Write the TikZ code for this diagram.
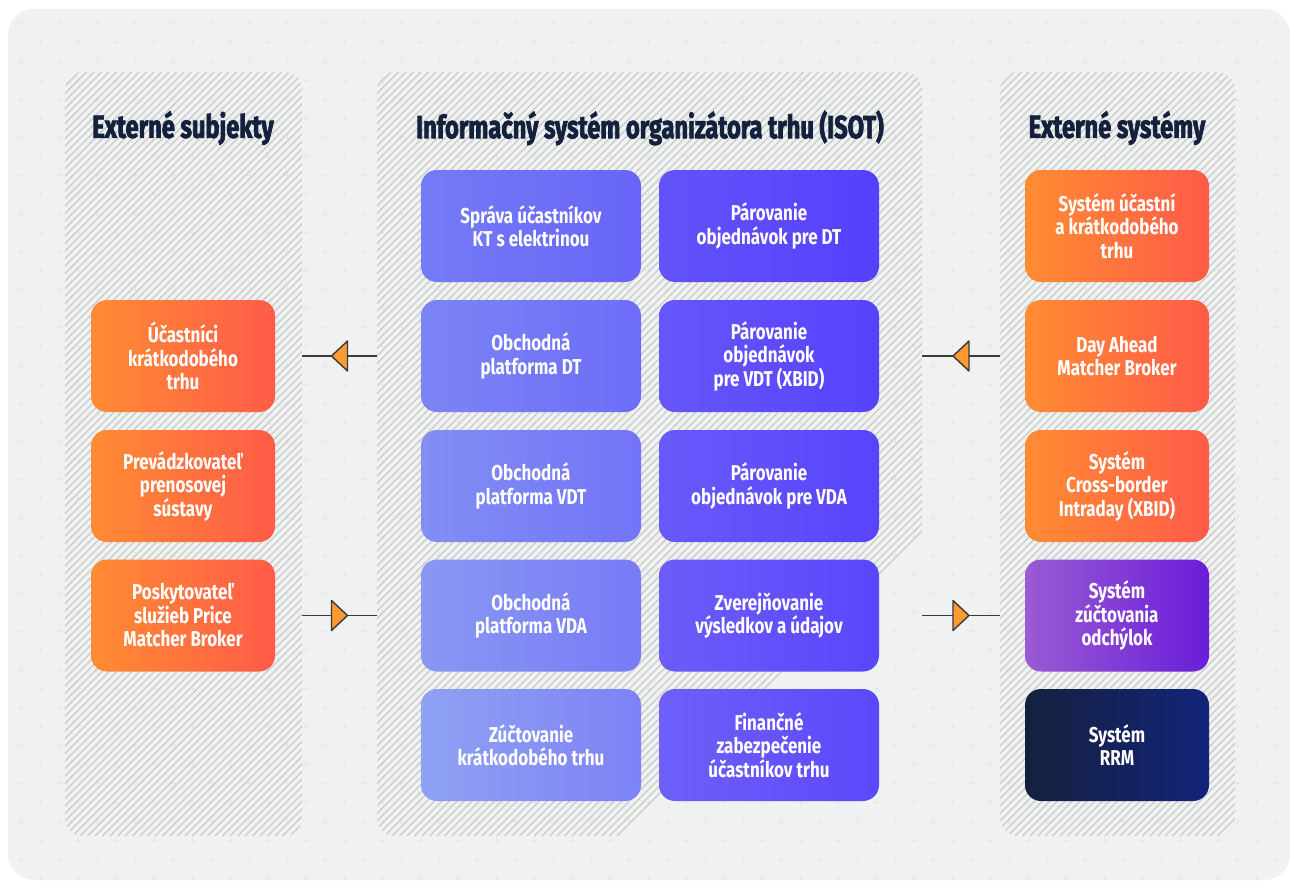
\documentclass[tikz,border=0pt]{standalone}
\usepackage{fontspec}
\setmainfont{Fira Sans}
\newfontfamily\hdfont[FakeStretch=0.74,FakeBold=2.2]{Fira Sans}
\newfontfamily\bxfont[FakeStretch=0.79]{Fira Sans}
\usetikzlibrary{calc}
\definecolor{bgc}{HTML}{F0F1F1}
\definecolor{plusc}{HTML}{E5E7E7}
\definecolor{hatchc}{HTML}{C8CACA}
\definecolor{hdc}{HTML}{14213D}
\definecolor{oL}{HTML}{FF8C33}
\definecolor{oR}{HTML}{FF5B48}
\definecolor{pL}{HTML}{9A5BD3}
\definecolor{pR}{HTML}{6A1DD9}
\definecolor{nL}{HTML}{14213D}
\definecolor{nR}{HTML}{13247A}
\definecolor{aL}{HTML}{757BF5}
\definecolor{aLb}{HTML}{8FA2F2}
\definecolor{aR}{HTML}{6865F8}
\definecolor{aRb}{HTML}{7D82F6}
\definecolor{bL}{HTML}{6353FA}
\definecolor{bLb}{HTML}{6E60F9}
\definecolor{bR}{HTML}{5540FC}
\definecolor{bRb}{HTML}{5B48FB}
\definecolor{triC}{HTML}{FF9A30}
\definecolor{lineC}{HTML}{3A3A3A}
\tikzset{
  panel/.style={draw=none, minimum height=764pt, inner sep=0pt},
  box/.style={rounded corners=16pt, minimum height=112pt, inner sep=0pt, align=center,
     text=white, font=\bxfont\bfseries\fontsize{21.5}{23.5}\selectfont},
  sbox/.style={box, minimum width=184pt},
  wbox/.style={box, minimum width=220pt},
  orange/.style={sbox, left color=oL, right color=oR},
  purp/.style={sbox, left color=pL, right color=pR},
  navy/.style={sbox, left color=nL, right color=nR},
  colA/.style={wbox, left color=aL!#1!aLb, right color=aR!#1!aRb},
  colB/.style={wbox, left color=bL!#1!bLb, right color=bR!#1!bRb},
  header/.style={text=hdc, font=\hdfont\bfseries\fontsize{32}{34}\selectfont, inner sep=0pt},
  conn/.style={draw=lineC, line width=1.6pt},
  tri/.style={fill=triC, draw=lineC, line width=1.4pt, line join=round},
  hatch/.style={draw=hatchc, line width=1.1pt},
}
\begin{document}
\begin{tikzpicture}[x=1pt,y=-1pt]
\useasboundingbox (0,0) rectangle (1291,883);
\fill[white] (0,0) rectangle (1291,883);
\fill[bgc, rounded corners=26pt] (8,9) rectangle (1290,880);
% faint plus pattern
\begin{scope}
\clip[rounded corners=26pt] (8,9) rectangle (1290,880);
\draw[plusc, line width=0.8pt]
  \foreach \j in {0,...,46} {
    \foreach \i in {0,...,34} {
      ({2 + 38*\i + 19*mod(\j,2) - 3}, {4 + 19*\j}) -- ++(6,0)
      ({2 + 38*\i + 19*mod(\j,2)}, {4 + 19*\j - 3}) -- ++(0,6)
    }
  };
\end{scope}
% panels
\node[panel, minimum width=237pt] (lp) at (183.5,454) {};
\node[panel, minimum width=545pt] (mp) at (649.5,454) {};
\node[panel, minimum width=235pt] (rp) at (1117.5,454) {};
\foreach \xa/\xb in {65/302, 377/922, 1000/1235} {
  \begin{scope}
    \clip[rounded corners=18pt] (\xa,72) rectangle (\xb,836);
    \foreach \k in {-780,-772.5,...,240} {
      \draw[hatch] ({\xa+\k},836) -- ({\xa+\k+764},72);
    }
  \end{scope}
}
% headers
\node[header] (h1) at (183,128) {Externé subjekty};
\node[header] (h2) at (650,128) {Informačný systém organizátora trhu (ISOT)};
\node[header] (h3) at (1117,128) {Externé systémy};
% left column
\node[orange] (l1) at (183,356) {Účastníci\\krátkodobého\\trhu};
\node[orange] (l2) at (183,486) {Prevádzkovateľ\\prenosovej\\sústavy};
\node[orange] (l3) at (183,615.5) {Poskytovateľ\\služieb Price\\Matcher Broker};
% middle columns
\node[colA=100] (a1) at (531,226) {Správa účastníkov\\KT s elektrinou};
\node[colA=75]  (a2) at (531,356) {Obchodná\\platforma DT};
\node[colA=50]  (a3) at (531,486) {Obchodná\\platforma VDT};
\node[colA=25]  (a4) at (531,615.5) {Obchodná\\platforma VDA};
\node[colA=0]   (a5) at (531,745) {Zúčtovanie\\krátkodobého trhu};
\node[colB=100] (b1) at (769,226) {Párovanie\\objednávok pre DT};
\node[colB=75]  (b2) at (769,356) {Párovanie\\objednávok\\pre VDT (XBID)};
\node[colB=50]  (b3) at (769,486) {Párovanie\\objednávok pre VDA};
\node[colB=25]  (b4) at (769,615.5) {Zverejňovanie\\výsledkov a údajov};
\node[colB=0]   (b5) at (769,745) {Finančné\\zabezpečenie\\účastníkov trhu};
% right column
\node[orange] (r1) at (1117,226) {Systém účastní\\a krátkodobého\\trhu};
\node[orange] (r2) at (1117,356) {Day Ahead\\Matcher Broker};
\node[orange] (r3) at (1117,486) {Systém\\Cross-border\\Intraday (XBID)};
\node[purp]   (r4) at (1117,615.5) {Systém\\zúčtovania\\odchýlok};
\node[navy]   (r5) at (1117,745) {Systém\\RRM};
% connectors
\draw[conn] (lp.east |- l1) -- (mp.west |- l1);
\draw[conn] (lp.east |- l3) -- (mp.west |- l3);
\draw[conn] (mp.east |- r2) -- (rp.west |- r2);
\draw[conn] (mp.east |- r4) -- (rp.west |- r4);
\coordinate (m1) at ($(lp.east |- l1)!0.5!(mp.west |- l1)$);
\coordinate (m2) at ($(lp.east |- l3)!0.5!(mp.west |- l3)$);
\coordinate (m3) at ($(mp.east |- r2)!0.5!(rp.west |- r2)$);
\coordinate (m4) at ($(mp.east |- r4)!0.5!(rp.west |- r4)$);
\draw[tri] ([xshift=-8pt]m1) -- ([xshift=8pt,yshift=15pt]m1) -- ([xshift=8pt,yshift=-15pt]m1) -- cycle;
\draw[tri] ([xshift=8pt]m2) -- ([xshift=-8pt,yshift=15pt]m2) -- ([xshift=-8pt,yshift=-15pt]m2) -- cycle;
\draw[tri] ([xshift=-8pt]m3) -- ([xshift=8pt,yshift=15pt]m3) -- ([xshift=8pt,yshift=-15pt]m3) -- cycle;
\draw[tri] ([xshift=8pt]m4) -- ([xshift=-8pt,yshift=15pt]m4) -- ([xshift=-8pt,yshift=-15pt]m4) -- cycle;
\end{tikzpicture}
\end{document}
